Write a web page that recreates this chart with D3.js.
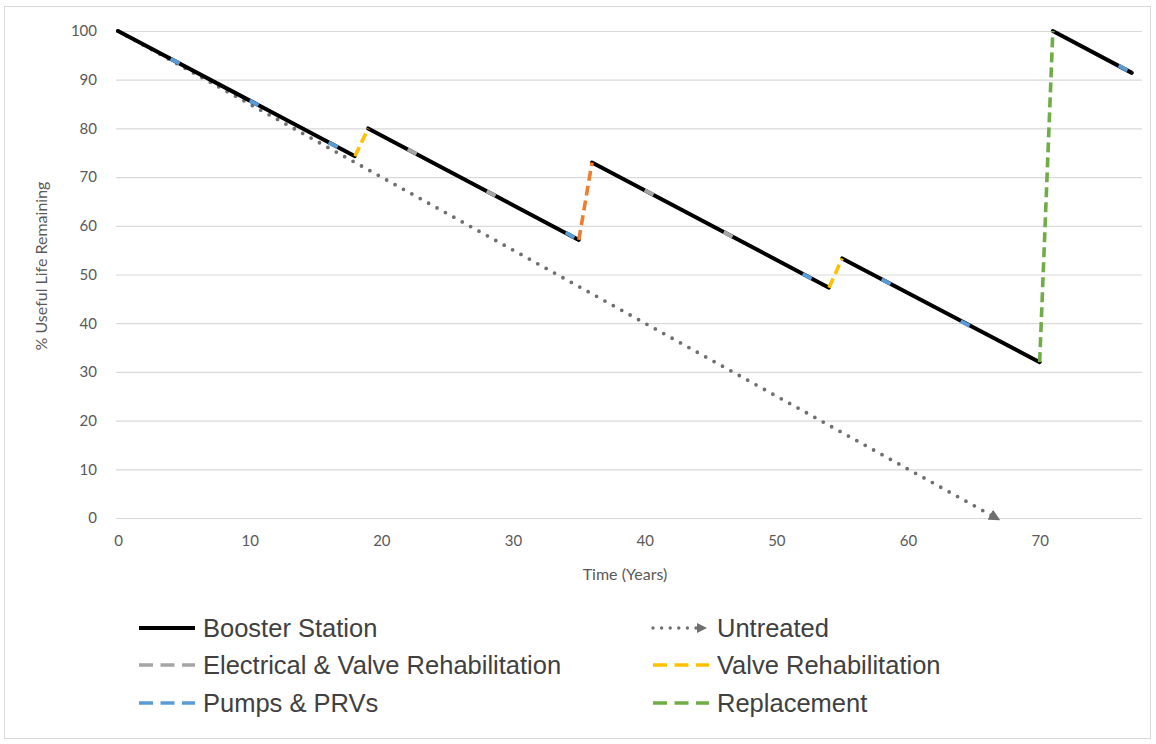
<!DOCTYPE html>
<html>
<head>
<meta charset="utf-8">
<script src="https://cdn.jsdelivr.net/npm/d3@7"></script>
<style>
  html, body { margin: 0; padding: 0; background: #fff; }
  svg { display: block; }
</style>
</head>
<body>
<svg id="chart" width="1156" height="744"></svg>
<script>
// Axis ticks
const xTicks = [0, 10, 20, 30, 40, 50, 60, 70];
const yTicks = [0, 10, 20, 30, 40, 50, 60, 70, 80, 90, 100];

// Booster station deterioration runs (between treatments)
const boosterStartYear = [0, 19, 36, 55, 71];
const boosterEndYear   = [18, 35, 54, 70, 77];
const boosterStartLife = [100, 80, 73, 53.3, 100];
const boosterEndLife   = [74.3, 57.1, 47.3, 32, 91.4];

// Untreated deterioration
const untreatedYears = [0, 66.7];
const untreatedLife  = [100, 0];

// Treatment jumps: [year before, year after], [life before, life after]
const valveRehabYears = [[18, 19], [54, 55]];
const valveRehabLife  = [[74.3, 80], [47.3, 53.3]];
const majorRehabYears = [[35, 36]];
const majorRehabLife  = [[57.1, 73]];
const replacementYears = [[70, 71]];
const replacementLife  = [[32, 100]];

// Short treatment events along the deterioration curve
const electricalYears = [[22, 23], [28, 29], [40, 41], [46, 47]];
const electricalLife  = [[75.7, 74.3], [67.1, 65.7], [67.3, 65.9], [58.7, 57.3]];
const pumpsYears = [[4, 5], [10, 11], [16, 17], [34, 35], [52, 53], [58, 59], [64, 65], [76, 77]];
const pumpsLife  = [[94.3, 92.9], [85.7, 84.3], [77.1, 75.7], [58.6, 57.1], [50.1, 48.7], [49.0, 47.6], [40.4, 39.0], [92.9, 91.4]];

// Legend entries
const legendNames = ["Booster Station", "Untreated", "Electrical & Valve Rehabilitation",
                     "Valve Rehabilitation", "Pumps & PRVs", "Replacement"];

const colors = {
  booster: "#000000",
  untreated: "#6f6f6f",
  electrical: "#a5a5a5",
  valve: "#ffc000",
  major: "#ed7d31",
  pumps: "#5b9bd5",
  replacement: "#70ad47"
};

const svg = d3.select("#chart");

// Chart area border
svg.append("rect")
  .attr("x", 4.5).attr("y", 6.5).attr("width", 1146).attr("height", 732)
  .attr("fill", "#fff").attr("stroke", "#d9d9d9").attr("stroke-width", 1);

const x = d3.scaleLinear().domain([0, 78]).range([118, 1145]);
const y = d3.scaleLinear().domain([0, 100]).range([518, 31]);
const gridLeft = 116, gridRight = 1142;
const axisFont = "Lato, 'Open Sans', sans-serif";

// Y axis with horizontal gridlines
const yAxis = svg.append("g")
  .attr("transform", `translate(${gridLeft},0)`)
  .call(d3.axisLeft(y).tickValues(yTicks).tickSize(-(gridRight - gridLeft)).tickPadding(19));
yAxis.select(".domain").remove();
yAxis.selectAll(".tick line").attr("stroke", "#d9d9d9").attr("stroke-width", 1.2);
yAxis.selectAll(".tick text")
  .attr("fill", "#595959").attr("font-family", axisFont).attr("font-size", 15);

// X axis labels
const xAxis = svg.append("g")
  .attr("transform", `translate(0,${y(0)})`)
  .call(d3.axisBottom(x).tickValues(xTicks).tickSize(0).tickPadding(17));
xAxis.select(".domain").remove();
xAxis.selectAll(".tick text")
  .attr("fill", "#595959").attr("font-family", axisFont).attr("font-size", 15);

// Axis titles
svg.append("text")
  .attr("x", 625).attr("y", 580)
  .attr("text-anchor", "middle")
  .attr("fill", "#595959").attr("font-family", axisFont).attr("font-size", 16)
  .text("Time (Years)");
svg.append("text")
  .attr("transform", "translate(47,266) rotate(-90)")
  .attr("text-anchor", "middle")
  .attr("fill", "#595959").attr("font-family", axisFont).attr("font-size", 16)
  .text("% Useful Life Remaining");

// Arrow marker for the untreated line
const defs = svg.append("defs");
defs.append("marker")
  .attr("id", "arrowHead")
  .attr("viewBox", "0 0 10 10")
  .attr("refX", 6).attr("refY", 5)
  .attr("markerWidth", 3).attr("markerHeight", 3)
  .attr("orient", "auto")
  .attr("markerUnits", "strokeWidth")
  .append("path").attr("d", "M0,0 L10,5 L0,10 Z").attr("fill", colors.untreated);

const line = d3.line().x(d => x(d[0])).y(d => y(d[1]));

// Untreated line (dotted with arrow)
svg.append("path")
  .datum(untreatedYears.map((t, i) => [t, untreatedLife[i]]))
  .attr("d", line)
  .attr("fill", "none")
  .attr("stroke", colors.untreated)
  .attr("stroke-width", 3.8)
  .attr("stroke-linecap", "round")
  .attr("stroke-dasharray", "0 9.6")
  .attr("marker-end", "url(#arrowHead)");

// Booster station runs
svg.append("g").selectAll("path")
  .data(boosterStartYear.map((t, i) => [[t, boosterStartLife[i]], [boosterEndYear[i], boosterEndLife[i]]]))
  .join("path")
  .attr("d", line)
  .attr("fill", "none")
  .attr("stroke", colors.booster)
  .attr("stroke-width", 4)
  .attr("stroke-linecap", "round");

// Dashed treatment series
function drawDashed(yearsArr, lifeArr, color, width) {
  svg.append("g").selectAll("path")
    .data(yearsArr.map((ts, i) => ts.map((t, j) => [t, lifeArr[i][j]])))
    .join("path")
    .attr("d", line)
    .attr("fill", "none")
    .attr("stroke", color)
    .attr("stroke-width", width)
    .attr("stroke-dasharray", "10 5");
}
drawDashed(electricalYears, electricalLife, colors.electrical, 4);
drawDashed(pumpsYears, pumpsLife, colors.pumps, 4);
drawDashed(valveRehabYears, valveRehabLife, colors.valve, 3.6);
drawDashed(majorRehabYears, majorRehabLife, colors.major, 3.6);
drawDashed(replacementYears, replacementLife, colors.replacement, 3.6);

// Legend
const legendItems = [
  { name: legendNames[0], color: colors.booster, kind: "solid", col: 0, row: 0 },
  { name: legendNames[1], color: colors.untreated, kind: "dot", col: 1, row: 0 },
  { name: legendNames[2], color: colors.electrical, kind: "dash", col: 0, row: 1 },
  { name: legendNames[3], color: colors.valve, kind: "dash", col: 1, row: 1 },
  { name: legendNames[4], color: colors.pumps, kind: "dash", col: 0, row: 2 },
  { name: legendNames[5], color: colors.replacement, kind: "dash", col: 1, row: 2 }
];
const colX = [139, 653];
const rowY = [628, 665, 703];
const sampleLen = 56;

const legend = svg.append("g");
legendItems.forEach(it => {
  const lx = colX[it.col], ly = rowY[it.row];
  const g = legend.append("g");
  const p = g.append("line")
    .attr("x1", lx).attr("x2", lx + sampleLen)
    .attr("y1", ly).attr("y2", ly)
    .attr("stroke", it.color);
  if (it.kind === "solid") {
    p.attr("stroke-width", 4);
  } else if (it.kind === "dash") {
    p.attr("stroke-width", 3.6).attr("stroke-dasharray", "14 7.5");
  } else {
    p.attr("x2", lx + sampleLen - 6)
      .attr("stroke-width", 3.4).attr("stroke-linecap", "round")
      .attr("stroke-dasharray", "0 8.6")
      .attr("marker-end", "url(#arrowHead)");
  }
  g.append("text")
    .attr("x", lx + sampleLen + 8).attr("y", ly)
    .attr("dy", "0.36em")
    .attr("fill", "#404040")
    .attr("font-family", "'Liberation Sans', Arial, sans-serif")
    .attr("font-size", 25.5)
    .text(it.name);
});
</script>
</body>
</html>
